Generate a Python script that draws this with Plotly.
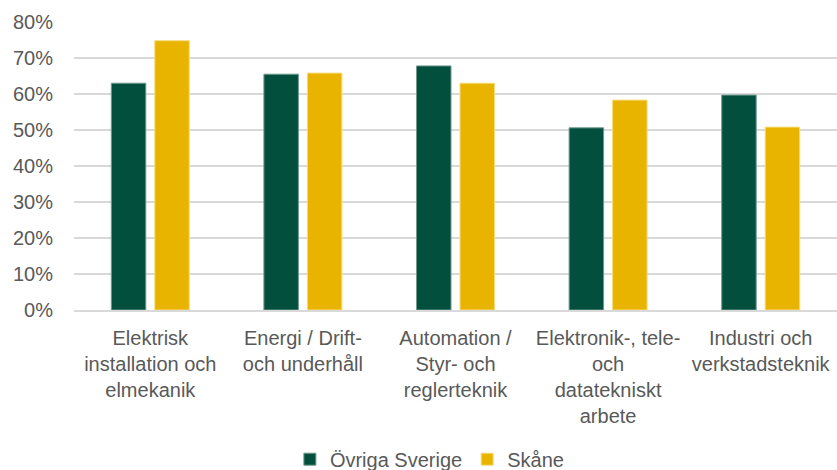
import plotly.graph_objects as go

categories = [
    "Elektrisk<br>installation och<br>elmekanik",
    "Energi / Drift-<br>och underhåll",
    "Automation /<br>Styr- och<br>reglerteknik",
    "Elektronik-, tele-<br>och<br>datatekniskt<br>arbete",
    "Industri och<br>verkstadsteknik",
]
ovriga_sverige = [0.63, 0.655, 0.678, 0.506, 0.597]
skane = [0.748, 0.658, 0.63, 0.583, 0.508]
y_ticks = [0, 0.1, 0.2, 0.3, 0.4, 0.5, 0.6, 0.7, 0.8]

FONT = "Liberation Sans, Arial, sans-serif"
GREY = "#595959"

fig = go.Figure()
fig.add_trace(go.Bar(
    x=categories, y=ovriga_sverige, name="Övriga Sverige",
    marker=dict(color="#034F3D", line=dict(color="#6f9a8e", width=1)),
))
fig.add_trace(go.Bar(
    x=categories, y=skane, name="Skåne",
    marker=dict(color="#E8B400", line=dict(color="#f6dc7a", width=1)),
))

fig.update_layout(
    width=837, height=470,
    margin=dict(l=74, r=0, t=22, b=160, autoexpand=False),
    paper_bgcolor="white", plot_bgcolor="white",
    barmode="group", bargap=0.43, bargroupgap=0.207,
    font=dict(family=FONT, size=20, color=GREY),
    showlegend=True,
    legend=dict(
        orientation="h", xref="container", yref="container",
        x=0.513, y=0.023, xanchor="center", yanchor="middle",
        font=dict(family=FONT, size=20, color=GREY),
        itemwidth=30, traceorder="normal",
    ),
)
fig.update_yaxes(
    range=[0, 0.8], tickvals=y_ticks, tickformat=".0%",
    showgrid=True, gridcolor="#d9d9d9", gridwidth=1.5,
    zeroline=False, showline=False, ticks="",
    ticklabelstandoff=20,
    tickfont=dict(family=FONT, size=20, color=GREY),
)
fig.update_xaxes(
    showline=True, linecolor="#d9d9d9", linewidth=1.5,
    ticks="", tickangle=0, ticklabelstandoff=9,
    tickfont=dict(family=FONT, size=20, color=GREY),
)

fig.write_html(
    "out.html",
    config={"displayModeBar": False},
    post_script="document.body.style.margin='0';document.body.style.overflow='hidden';",
)
